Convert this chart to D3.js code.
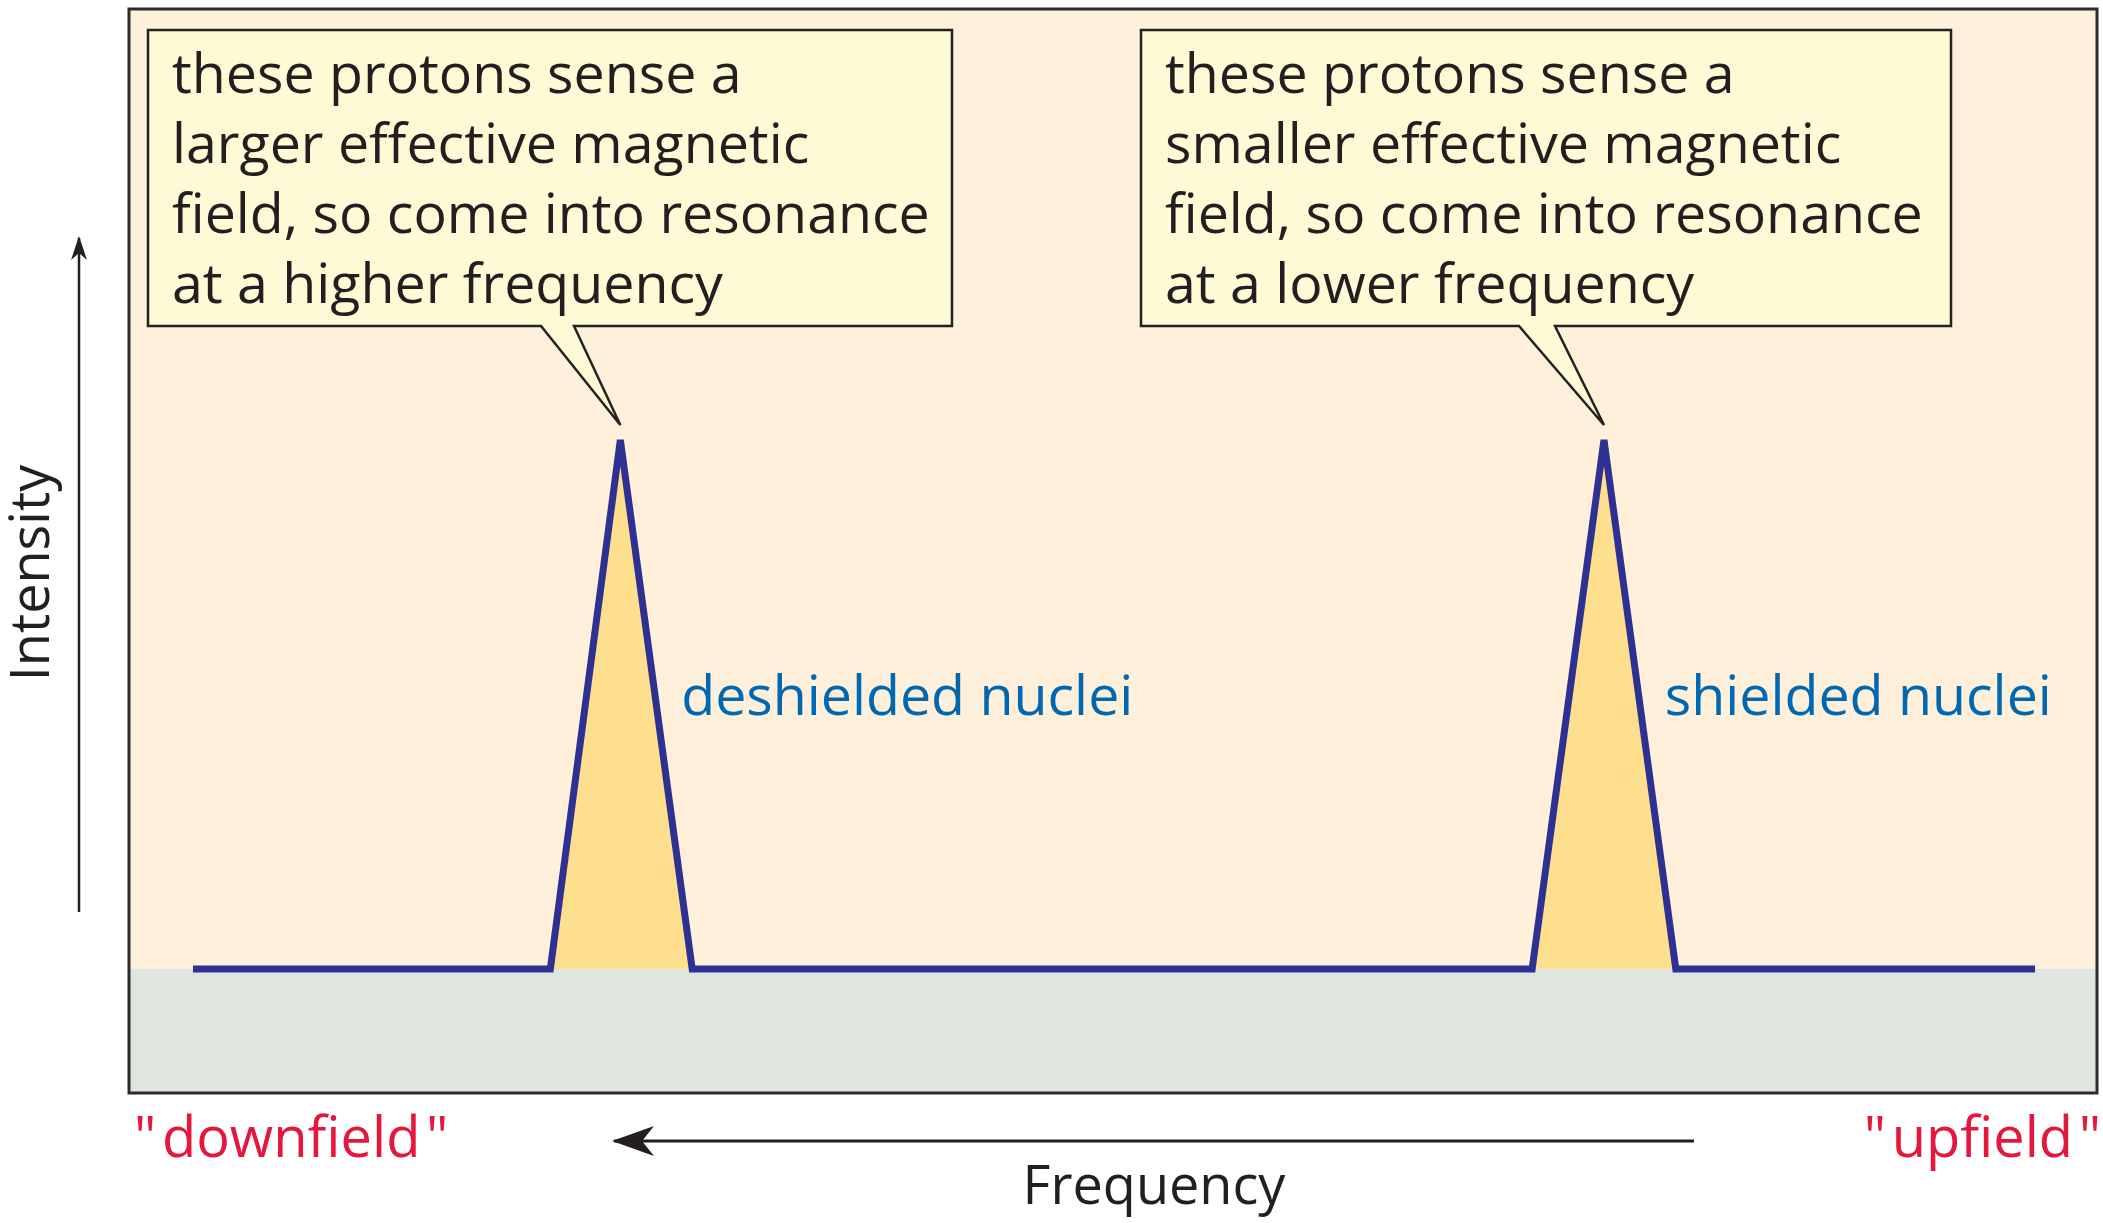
<!DOCTYPE html>
<html>
<head>
<meta charset="utf-8">
<script src="https://cdn.jsdelivr.net/npm/d3@7"></script>
<style>
  body { margin: 0; background: #fff; }
  text { font-family: "Open Sans", "Noto Sans", sans-serif; }
</style>
</head>
<body>
<div id="chart"></div>
<script>
// spectrum trace (frequency in arbitrary units, intensity in %)
const freq = [0, 19.4, 23.2, 27.1, 72.7, 76.6, 80.5, 100];
const intensity = [0, 0, 100, 0, 0, 100, 0, 0];
// peak index ranges [start, apex, end] into the arrays above
const peaks = [[1, 2, 3], [4, 5, 6]];
const peakLabels = ['deshielded nuclei', 'shielded nuclei'];
const calloutLines = [
    ['these protons sense a', 'larger effective magnetic', 'field, so come into resonance', 'at a higher frequency'],
    ['these protons sense a', 'smaller effective magnetic', 'field, so come into resonance', 'at a lower frequency']
];
const endLabels = ['"\u200Adownfield\u200A"', '"\u200Aupfield\u200A"'];

const width = 2103, height = 1223;
const frame = { left: 129, top: 9, right: 2097, bottom: 1093 };

const svg = d3.select('#chart').append('svg')
    .attr('width', width)
    .attr('height', height);

const x = d3.scaleLinear().domain([0, 100]).range([193, 2035]);
const y = d3.scaleLinear().domain([0, 100]).range([969, 440]);

//background panels
svg.append('rect')
    .attr('x', frame.left).attr('y', frame.top)
    .attr('width', frame.right - frame.left).attr('height', frame.bottom - frame.top)
    .attr('fill', '#fef0da');
svg.append('rect')
    .attr('x', frame.left).attr('y', y(0))
    .attr('width', frame.right - frame.left).attr('height', frame.bottom - y(0))
    .attr('fill', '#dfe6df');
svg.append('rect')
    .attr('x', frame.left).attr('y', frame.top)
    .attr('width', frame.right - frame.left).attr('height', frame.bottom - frame.top)
    .attr('fill', 'none')
    .attr('stroke', '#2b2b2b')
    .attr('stroke-width', 3);

//peak fills
const area = d3.area()
    .x(i => x(freq[i]))
    .y0(y(0))
    .y1(i => y(intensity[i]));
svg.selectAll('.peak')
    .data(peaks)
    .join('path')
    .attr('class', 'peak')
    .attr('d', d => area(d))
    .attr('fill', '#fddf8e');

//trace
svg.append('path')
    .attr('d', d3.line().x(d => x(d[0])).y(d => y(d[1]))(freq.map((f, i) => [f, intensity[i]])))
    .attr('fill', 'none')
    .attr('stroke', '#2e3192')
    .attr('stroke-width', 7)
    .attr('stroke-linejoin', 'miter');

//peak labels
svg.selectAll('.plabel')
    .data(peaks)
    .join('text')
    .attr('class', 'plabel')
    .attr('x', d => x(freq[d[2]]) - 11)
    .attr('y', 715)
    .attr('font-size', 55.5)
    .attr('fill', '#0067b1')
    .text((d, i) => peakLabels[i]);

//callouts
const boxes = [
    { x0: 148, x1: 952, base: [541, 574] },
    { x0: 1141, x1: 1951, base: [1519, 1555] }
];
const boxTop = 30, boxBottom = 326;
boxes.forEach((b, i) => {
    const apex = peaks[i][1];
    const tipX = x(freq[apex]), tipY = y(intensity[apex]) - 15;
    svg.append('path')
        .attr('d', `M${b.x0},${boxTop}H${b.x1}V${boxBottom}H${b.base[1]}L${tipX},${tipY}L${b.base[0]},${boxBottom}H${b.x0}Z`)
        .attr('fill', '#fefad6')
        .attr('stroke', '#222')
        .attr('stroke-width', 2.5)
        .attr('stroke-linejoin', 'miter');
    svg.append('g').selectAll('text')
        .data(calloutLines[i])
        .join('text')
        .attr('x', b.x0 + 24)
        .attr('y', (d, j) => 93 + j * 70)
        .attr('font-size', 55.5)
        .attr('fill', '#231f20')
        .text(d => d);
});

//axis arrows
const defs = svg.append('defs');
defs.append('marker')
    .attr('id', 'arrow')
    .attr('viewBox', '0 0 42 30')
    .attr('refX', 40).attr('refY', 15)
    .attr('markerWidth', 42).attr('markerHeight', 30)
    .attr('markerUnits', 'userSpaceOnUse')
    .attr('orient', 'auto')
    .append('path')
    .attr('d', 'M42,15L0,0L12,15L0,30Z')
    .attr('fill', '#231f20');
defs.append('marker')
    .attr('id', 'arrowSmall')
    .attr('viewBox', '0 0 24 16')
    .attr('refX', 22).attr('refY', 8)
    .attr('markerWidth', 24).attr('markerHeight', 16)
    .attr('markerUnits', 'userSpaceOnUse')
    .attr('orient', 'auto')
    .append('path')
    .attr('d', 'M24,8L0,0L7,8L0,16Z')
    .attr('fill', '#231f20');

svg.append('line')
    .attr('x1', 79).attr('y1', 912)
    .attr('x2', 79).attr('y2', 238)
    .attr('stroke', '#231f20')
    .attr('stroke-width', 2.5)
    .attr('marker-end', 'url(#arrowSmall)');
svg.append('line')
    .attr('x1', 1694).attr('y1', 1141)
    .attr('x2', 614).attr('y2', 1141)
    .attr('stroke', '#231f20')
    .attr('stroke-width', 3)
    .attr('marker-end', 'url(#arrow)');

//axis labels
svg.append('text')
    .attr('transform', 'translate(49,573) rotate(-90)')
    .attr('text-anchor', 'middle')
    .attr('font-size', 54)
    .attr('fill', '#231f20')
    .text('Intensity');
svg.append('text')
    .attr('x', 1154).attr('y', 1204)
    .attr('text-anchor', 'middle')
    .attr('font-size', 54)
    .attr('fill', '#231f20')
    .text('Frequency');
svg.append('text')
    .attr('x', 134).attr('y', 1157)
    .attr('font-size', 56)
    .attr('fill', '#e4173e')
    .text(endLabels[0]);
svg.append('text')
    .attr('x', 2101).attr('y', 1157)
    .attr('text-anchor', 'end')
    .attr('font-size', 56)
    .attr('fill', '#e4173e')
    .text(endLabels[1]);
</script>
</body>
</html>
